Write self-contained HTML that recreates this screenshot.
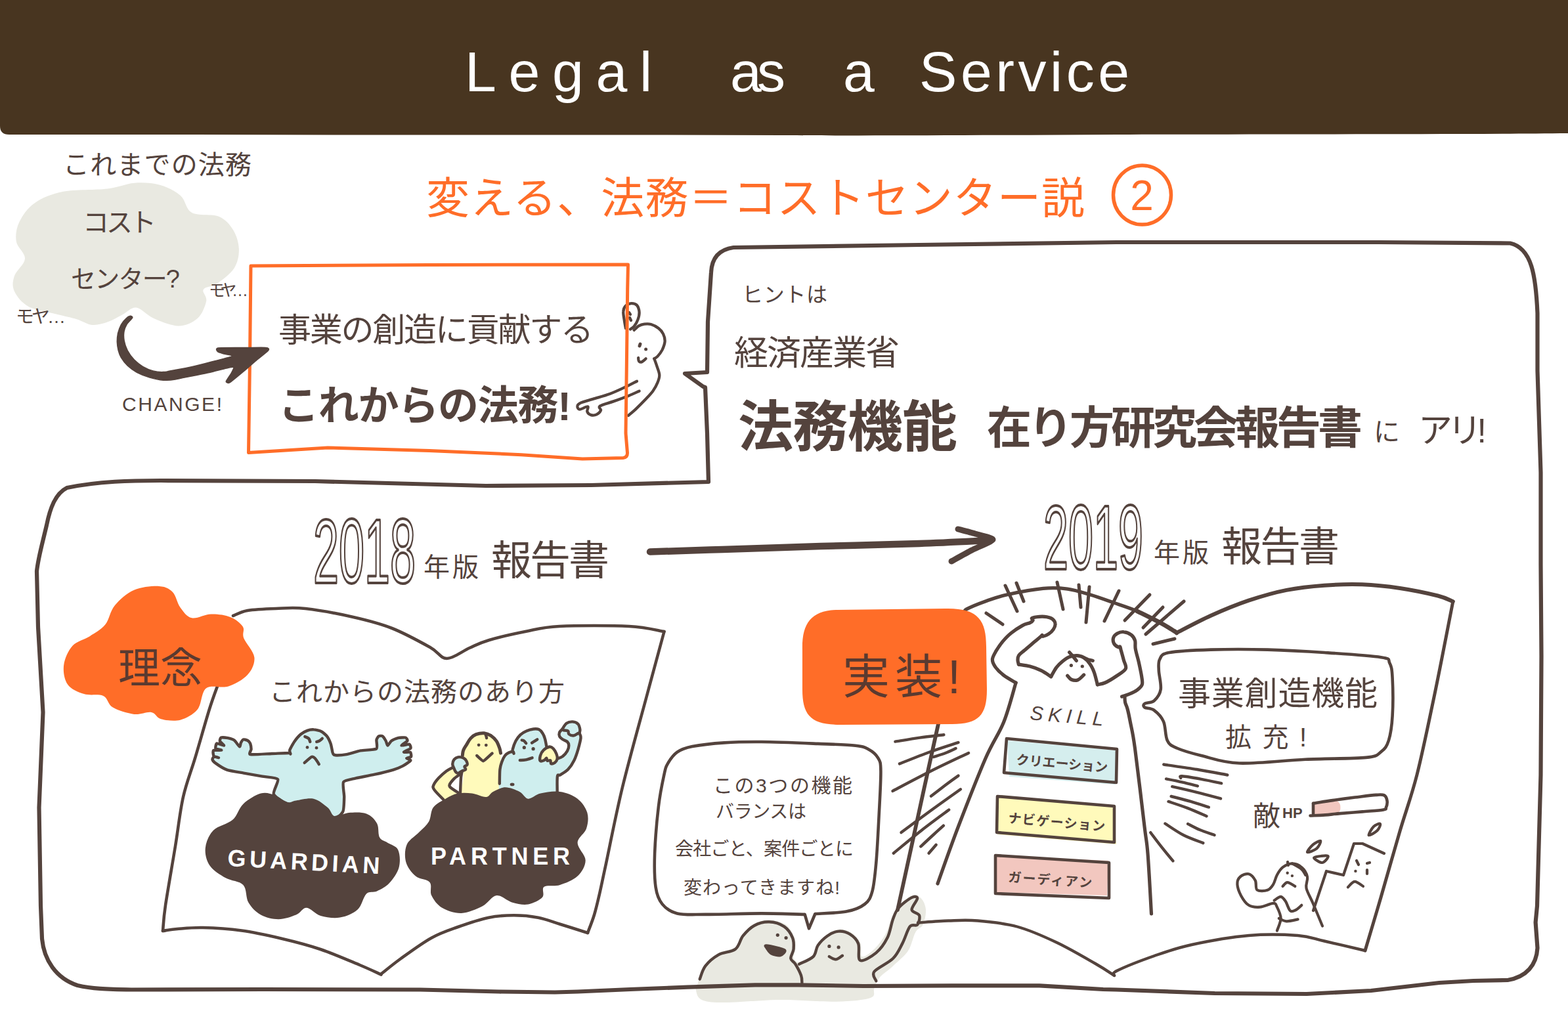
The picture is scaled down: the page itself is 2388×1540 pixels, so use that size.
<!DOCTYPE html>
<html><head><meta charset="utf-8"><title>Legal as a Service</title>
<style>html,body{margin:0;padding:0;background:#fff;font-family:"Liberation Sans",sans-serif}svg{display:block}svg text{font-family:"Liberation Sans","Noto Sans CJK JP",sans-serif}</style></head>
<body><svg width="2388" height="1540" viewBox="0 0 2388 1540" stroke-linecap="round" stroke-linejoin="round" role="img" aria-label="Legal as a Service">
<desc>Legal as a Service. 変える、法務＝コストセンター説 2. これまでの法務 コストセンター? モヤ… CHANGE! 事業の創造に貢献する これからの法務! ヒントは 経済産業省 法務機能 在り方研究会報告書 にアリ! 2018年版 報告書 理念 これからの法務のあり方 GUARDIAN PARTNER 2019年版 報告書 実装! SKILL クリエーション ナビゲーション ガーディアン 事業創造機能 拡充! 敵HP この3つの機能バランスは 会社ごと、案件ごとに 変わってきますね!</desc>
<path d="M0 0H2388V203C2200 205 1900 204 1700 205C1500 206 1300 207 1190 206C900 205 600 206 300 205L14 205Q0 205 0 192Z" fill="#483520"/>
<path d="M1062.9 1497.1C1065.2 1490.5 1069 1476.2 1074.3 1468.6C1079.5 1461 1086.7 1455.7 1094.3 1451.4C1101.9 1447.1 1113.8 1447.6 1120 1442.9C1126.2 1438.1 1126.7 1428.8 1131.4 1422.9C1136.2 1416.9 1141.9 1410.7 1148.6 1407.1C1155.2 1403.6 1163.3 1401.2 1171.4 1401.4C1179.5 1401.7 1190.7 1404 1197.1 1408.6C1203.6 1413.1 1207.6 1422.4 1210 1428.6C1212.4 1434.8 1211.7 1440.7 1211.4 1445.7C1211.2 1450.7 1207.6 1455.2 1208.6 1458.6C1209.5 1461.9 1212.1 1466.4 1217.1 1465.7C1222.1 1465 1233.8 1459 1238.6 1454.3C1243.3 1449.5 1242.1 1442.4 1245.7 1437.1C1249.3 1431.9 1254.8 1426.4 1260 1422.9C1265.2 1419.3 1271.2 1416.2 1277.1 1415.7C1283.1 1415.2 1290.2 1416.7 1295.7 1420C1301.2 1423.3 1307.1 1429.5 1310 1435.7C1312.9 1441.9 1309.3 1455.5 1312.9 1457.1C1316.4 1458.8 1325.5 1451.4 1331.4 1445.7C1337.4 1440 1344 1431 1348.6 1422.9C1353.1 1414.8 1354.8 1404.8 1358.6 1397.1C1362.4 1389.5 1366.4 1382.6 1371.4 1377.1C1376.4 1371.7 1383.3 1365.7 1388.6 1364.3C1393.8 1362.9 1399.3 1365 1402.9 1368.6C1406.4 1372.1 1409.5 1379 1410 1385.7C1410.5 1392.4 1408.3 1402.9 1405.7 1408.6C1403.1 1414.3 1398.1 1413.3 1394.3 1420C1390.5 1426.7 1388.6 1440 1382.9 1448.6C1377.1 1457.1 1367.1 1464.8 1360 1471.4C1352.9 1478.1 1344.8 1482.9 1340 1488.6C1335.2 1494.3 1333.8 1500.5 1331.4 1505.7C1329 1511 1335.2 1516.7 1325.7 1520C1316.2 1523.3 1297.1 1525.2 1274.3 1525.7C1251.4 1526.2 1217.1 1522.6 1188.6 1522.9C1160 1523.1 1122.9 1527.1 1102.9 1527.1C1082.9 1527.1 1075.7 1526 1068.6 1522.9C1061.4 1519.8 1061 1512.9 1060 1508.6C1059 1504.3 1060.5 1503.8 1062.9 1497.1Z" fill="#e9e9e1"/>
<text x="708" y="139" font-size="86" fill="#ffffff" textLength="285">Legal</text>
<text x="1112" y="139" font-size="86" fill="#ffffff" textLength="84">as</text>
<text x="1284" y="139" font-size="86" fill="#ffffff">a</text>
<text x="1400" y="139" font-size="86" fill="#ffffff" textLength="320">Service</text>
<text x="649" y="325" font-size="66" fill="#ff6d28" textLength="1003">変える、法務＝コストセンター説</text>
<ellipse cx="1739.5" cy="297" rx="44" ry="45" fill="none" stroke="#ff6d28" stroke-width="5.5"/>
<text x="1739" y="320" font-size="64" fill="#ff6d28" text-anchor="middle">2</text>
<path d="M1117 377C1096 380 1084 392 1083 415L1078 490L1077 567L1043 569L1071 589L1074 590L1077 660L1079 734L900 739L740 740L480 733L245 732C200 732 150 733 102 743C84 752 76 775 71 800C64 830 58 850 56 870L58 955L65.5 1085L59.5 1230L62 1380L64 1430C67 1462 85 1490 118 1501C140 1506 160 1507 200 1507.5L400 1507L640 1507.5L760 1510.5L845 1511.5L880 1510.5L960 1507L1047 1503.6L1150 1500.3L1215 1500.3L1315 1502L1450 1501.3L1583 1501.3L1680 1507L1700 1507.5L1850 1513L1990 1514L2088 1509L2140 1503L2192 1497L2244 1494L2296 1493C2325 1488 2340 1470 2341.5 1444L2338.6 1405L2341 1380L2346.5 1180L2347.5 1000L2346.5 860L2346.5 720L2341.5 565L2341.5 477C2339 420 2333 378 2300 370.5L2100 369L1700 369L1400 373Z" fill="none" stroke="#54433d" stroke-width="6.2"/>
<text x="96" y="265" font-size="40" fill="#54433d" textLength="287">これまでの法務</text>
<path d="M204.6 278.7C191.4 279.7 181.7 285.3 163.7 287.4C145.6 289.6 115 288.2 96.4 291.8C77.9 295.5 63.8 301.6 52.6 309.4C41.4 317.2 33.9 328.8 29.2 338.6C24.6 348.3 23.4 358.6 24.8 367.8C26.3 377.1 38.5 385.4 38 394.1C37.5 402.9 24.6 412.1 21.9 420.4C19.2 428.7 18.3 436 21.9 443.8C25.6 451.6 32.9 461.3 43.8 467.2C54.8 473 75.5 475.7 87.7 478.9C99.9 482 108.1 483.5 116.9 486.2C125.7 488.9 132.5 494.2 140.3 494.9C148.1 495.7 155.9 493.2 163.7 490.6C171.5 487.9 179.7 482.5 187 478.9C194.3 475.2 199.7 467.7 207.5 468.6C215.3 469.6 223.1 480.1 233.8 484.7C244.5 489.3 260.6 496.4 271.8 496.4C283 496.4 294 491 301 484.7C308.1 478.4 312.7 465.7 314.2 458.4C315.6 451.1 307.1 445.3 309.8 440.9C312.5 436.5 322.5 437.5 330.2 432.1C338 426.8 350.9 417.5 356.5 408.7C362.1 400 364.1 389.2 363.9 379.5C363.6 369.8 360.2 358.6 355.1 350.3C350 342 343.6 334.2 333.2 329.8C322.7 325.4 302 329.3 292.3 324C282.5 318.6 283 304.7 274.7 297.7C266.4 290.6 254.3 284.8 242.6 281.6C230.9 278.4 217.7 277.7 204.6 278.7Z" fill="#e9e9e1"/>
<text x="126" y="353" font-size="40" fill="#54433d" textLength="112">コスト</text>
<text x="108" y="438" font-size="38" fill="#54433d" textLength="166">センター?</text>
<text x="24" y="492" font-size="28" fill="#54433d" textLength="76">モヤ…</text>
<text x="318" y="451" font-size="25" fill="#54433d" textLength="60">モヤ…</text>
<path d="M952.9 500C952.5 497.9 951.3 491.4 950.7 487.1C950.1 482.9 948.9 477.9 949.3 474.3C949.6 470.7 950.8 467.7 952.9 465.7C954.9 463.7 958.6 462.3 961.4 462.1C964.3 462 968 462.7 970 465C972 467.3 973.3 472 973.6 475.7C973.8 479.4 972.7 483.6 971.4 487.1C970.1 490.7 967.6 494.8 965.7 497.1C963.8 499.5 961 500.7 960 501.4" fill="none" stroke="#54433d" stroke-width="4.3"/>
<path d="M958 476 L960 479" fill="none" stroke="#54433d" stroke-width="4.3"/>
<path d="M959 484 L961 488" fill="none" stroke="#54433d" stroke-width="4.3"/>
<path d="M965.7 502.9C966.9 501.8 970.2 498 972.9 496.4C975.5 494.9 978.3 494 981.4 493.6C984.5 493.2 987.9 492.9 991.4 494C995 495.1 999.8 497.6 1002.9 500C1006 502.4 1008.4 505.2 1010 508.6C1011.6 511.9 1012.8 516 1012.6 520C1012.3 524 1010.4 529 1008.6 532.9C1006.7 536.7 1003.5 540.6 1001.4 542.9C999.4 545.1 997.3 545.8 996.4 546.4" fill="none" stroke="#54433d" stroke-width="4.3"/>
<path d="M996.4 546.4C997.1 548.5 999.4 554.4 1000.7 558.6C1002 562.7 1004.2 567.4 1004.3 571.4C1004.4 575.5 1003.1 578.8 1001.4 582.9C999.8 586.9 997.4 591.4 994.3 595.7C991.2 600 987.1 604 982.9 608.6C978.6 613.1 972.9 618.8 968.6 622.9C964.3 626.9 959 631.2 957.1 632.9" fill="none" stroke="#54433d" stroke-width="4.3"/>
<path d="M975 524 L974 527" fill="none" stroke="#54433d" stroke-width="4.8999999999999995"/>
<circle cx="983.6" cy="532.1" r="2.5" fill="#54433d"/>
<path d="M972.1 545C972.3 545.8 972 548.9 972.9 550C973.7 551.1 975.4 552 977.1 551.4C978.9 550.8 982.5 547.3 983.6 546.4" fill="none" stroke="#54433d" stroke-width="4.3"/>
<path d="M970 580.7C967.1 582.1 959.8 586.1 952.9 589.3C946 592.5 936.9 596.9 928.6 600C920.2 603.1 910.2 605.6 902.9 607.9C895.5 610.1 888.2 611.8 884.3 613.6C880.4 615.4 879.5 616.9 879.3 618.6C879 620.2 880.2 623.5 882.9 623.6C885.5 623.7 893.1 618.7 895 619.3C896.9 619.9 893.5 625 894.3 627.1C895.1 629.3 897.6 631.4 900 632.1C902.4 632.9 906.1 632.6 908.6 631.4C911.1 630.2 914.2 627.1 915 625C915.8 622.9 910.4 620.8 913.6 618.6C916.8 616.3 927 614 934.3 611.4C941.5 608.8 950.6 605.5 957.1 602.9C963.7 600.2 970.8 596.9 973.6 595.7" fill="none" stroke="#54433d" stroke-width="4.3"/>
<path d="M382 405L653 403.5L956.5 403L955.7 440L954.3 560L953 660L955.5 690Q955.5 697 949 697.5L887 699L794 692.7L654 686.5L499 682L378.5 689.6L380.5 550Z" fill="none" stroke="#ff6d28" stroke-width="5"/>
<path d="M198.3 481.3C197.1 481.5 193.2 483.9 191.6 485.5C189.9 487 185.8 492 184.4 494.5C183 497.1 180.3 504.5 179.6 507.5C178.9 510.6 178.3 517.5 178.3 520.5C178.4 523.5 179.4 530.7 180.1 533.5C180.8 536.3 182.8 541.8 184.4 544.5C186.1 547.3 191.4 554.2 194.2 556.9C197 559.5 204.5 565.2 208.4 567.3C212.4 569.4 223.2 573.7 227.9 575.1C232.6 576.5 244.2 578.9 248.7 579.2C253.2 579.6 261.7 578.7 266.9 577.9C272 577.2 286.8 573.9 292.9 572.7C298.9 571.5 312.8 568.9 318.8 567.5C324.9 566.2 340.5 561.9 344.8 561C349.1 560.1 355.1 558.7 355.8 559.7C356.6 560.8 352.6 567.4 351.3 569.9C350 572.3 344.7 579.3 344.3 580.9C343.9 582.5 347.1 583.5 348.1 583.5C349 583.5 349.9 583 352.6 580.9C355.2 578.9 366.4 569.7 370.8 566C375.2 562.3 385.8 552.8 390.3 549.1C394.7 545.3 407 536.1 408.7 533.8C410.4 531.5 409.2 529.8 404.8 529.4C400.4 528.9 379.3 529.5 370.8 529.6C362.3 529.7 336.7 529.4 332.1 530.1C327.5 530.9 330.5 534.8 331.6 535.8C332.6 536.9 338.4 538.2 340.9 539C343.4 539.7 355.8 541.1 353.2 542.6C350.7 544.1 325.9 550.1 318.8 551.9C311.8 553.8 298.9 557.1 292.9 558.4C286.8 559.8 272 562.7 266.9 563.6C261.7 564.6 252.6 566.5 248.7 566.6C244.8 566.8 236.8 565.9 233.1 564.9C229.5 564 220.9 560.4 217.5 558.4C214.2 556.5 207.3 550.9 204.5 548.1C201.8 545.2 195.9 537.1 194.2 533.8C192.4 530.4 189.8 522.6 189.2 519.2C188.6 515.9 188.5 507.8 189 504.9C189.4 502.1 191.4 497 192.9 494.5C194.3 492.1 201.1 485.4 201.7 483.9C202.3 482.4 199.5 481.1 198.3 481.3Z" fill="#54433d" stroke="#54433d" stroke-width="1.5"/>
<text x="186" y="626" font-size="30" fill="#54433d" textLength="152">CHANGE!</text>
<text x="424" y="520" font-size="50" fill="#54433d" textLength="480">事業の創造に貢献する</text>
<text x="424" y="640" font-size="62" font-weight="bold" fill="#54433d" textLength="446">これからの法務!</text>
<text x="1130" y="460" font-size="32" fill="#54433d" textLength="130">ヒントは</text>
<text x="1118" y="556" font-size="52" fill="#54433d" textLength="252">経済産業省</text>
<text x="1124" y="680" font-size="84" font-weight="bold" fill="#54433d" textLength="334">法務機能</text>
<text x="1503" y="676" font-size="68" font-weight="bold" fill="#54433d" textLength="572">在り方研究会報告書</text>
<text x="2092" y="672" font-size="40" fill="#54433d">に</text>
<text x="2160" y="674" font-size="52" fill="#54433d" textLength="104">アリ!</text>
<text x="477" y="888" font-size="140" fill="#ffffff" stroke="#54433d" stroke-width="4" textLength="156" lengthAdjust="spacingAndGlyphs">2018</text>
<text x="645" y="878" font-size="40" fill="#54433d" textLength="84">年版</text>
<text x="748" y="876" font-size="62" fill="#54433d" textLength="180">報告書</text>
<path d="M990 840.5C1008.3 839.9 1056.7 838.4 1100 837C1143.3 835.6 1200 833.5 1250 832C1300 830.5 1357 829.5 1400 828C1443 826.5 1490 823.8 1508 823" fill="none" stroke="#54433d" stroke-width="10.5"/>
<path d="M1459 806C1461.6 806.7 1479.7 811.4 1485 813C1490.3 814.6 1512.5 819.5 1512 822C1511.5 824.5 1486.3 834.7 1480 838C1473.7 841.3 1452.1 853.3 1449 855" fill="none" stroke="#54433d" stroke-width="9"/>
<text x="1589" y="867" font-size="140" fill="#ffffff" stroke="#54433d" stroke-width="4" textLength="152" lengthAdjust="spacingAndGlyphs">2019</text>
<text x="1757" y="856" font-size="40" fill="#54433d" textLength="84">年版</text>
<text x="1860" y="855" font-size="62" fill="#54433d" textLength="180">報告書</text>
<path d="M355 938C358.7 936.7 366.2 931.8 377 930C387.8 928.2 405.3 927.5 420 927C434.7 926.5 445.3 924.8 465 927C484.7 929.2 516 935 538 940C560 945 577.5 949.3 597 957C616.5 964.7 641.1 978.3 655 986C668.9 993.7 670.5 1002.8 680.5 1003C690.5 1003.2 704.2 991.7 715 987C725.8 982.3 730.8 979.2 745 975C759.2 970.8 782.2 965.5 800 962C817.8 958.5 825.7 955.3 852 954C878.3 952.7 931.4 952.7 958 954C984.6 955.3 1002.6 960.7 1011.5 962" fill="none" stroke="#54433d" stroke-width="4.6"/>
<path d="M1011.5 962C1007.1 978.3 995.6 1020.5 985 1060C974.4 1099.5 958.5 1155.7 948 1199C937.5 1242.3 927.8 1293.2 922 1320C916.2 1346.8 916.2 1347.8 913.4 1360C910.6 1372.2 908.1 1383.3 905 1393.5C901.9 1403.7 896.7 1416.4 895 1421" fill="none" stroke="#54433d" stroke-width="4.6"/>
<path d="M895 1421C888 1418.8 865.6 1411.6 853 1407.7C840.4 1403.8 831.3 1399.9 819.6 1397.7C807.9 1395.5 795.3 1394.3 782.8 1394.3C770.2 1394.3 758.5 1394.8 744.3 1397.7C730.1 1400.7 711.9 1406.8 697.4 1412C682.9 1417.2 671.6 1420.6 657 1428.7C642.4 1436.8 622.8 1451.3 610 1460.5C597.2 1469.7 585 1480.1 580 1484" fill="none" stroke="#54433d" stroke-width="4.6"/>
<path d="M580.5 1484.5C575.1 1482.1 563.4 1476.4 548 1470C532.6 1463.6 508 1452.8 488 1446C468 1439.2 448 1434.2 428 1429.5C408 1424.8 387.8 1420.2 368 1417.5C348.2 1414.8 325.3 1413.4 309 1413C292.7 1412.6 280.2 1414.2 270 1415C259.8 1415.8 251.7 1417.5 248 1418" fill="none" stroke="#54433d" stroke-width="4.6"/>
<path d="M248 1418C248.7 1411.5 248.8 1400.5 252 1379C255.2 1357.5 262.5 1316.5 267 1289C271.5 1261.5 274 1236.3 279 1214C284 1191.7 290.3 1177.3 297 1155C303.7 1132.7 313 1099.2 319 1080C325 1060.8 330.7 1046.7 333 1040" fill="none" stroke="#54433d" stroke-width="4.6"/>
<path d="M242.3 892.9C232.5 892.5 215.4 893.9 204.2 898.8C192.9 903.7 182.2 913.5 174.8 922.3C167.5 931.1 166.5 943.8 160.2 951.6C153.8 959.4 145 963.8 136.7 969.2C128.4 974.5 116.9 976.5 110.4 983.8C103.8 991.1 98.4 1003.4 97.2 1013.1C95.9 1022.9 97.9 1035.1 103 1042.4C108.2 1049.8 118.9 1054.2 127.9 1057.1C137 1060 149.9 1056.6 157.3 1060C164.6 1063.5 164.1 1073 171.9 1077.6C179.7 1082.3 194.4 1086.7 204.2 1087.9C213.9 1089.1 223.7 1083.7 230.5 1085C237.4 1086.2 237.9 1093.3 245.2 1095.2C252.5 1097.2 265.2 1099.1 274.5 1096.7C283.8 1094.2 294.3 1088.6 300.9 1080.6C307.5 1072.5 306.3 1054.2 314.1 1048.3C321.9 1042.4 337.3 1048.8 347.8 1045.4C358.3 1042 370.5 1035.1 377.1 1027.8C383.7 1020.5 388.3 1010.7 387.4 1001.4C386.4 992.1 374.2 979.9 371.2 972.1C368.3 964.3 373.2 959.9 369.8 954.5C366.4 949.1 358.8 943 350.7 939.9C342.7 936.7 331.2 935.2 321.4 935.5C311.6 935.7 299.9 943 292.1 941.3C284.3 939.6 279.4 931.8 274.5 925.2C269.6 918.6 268.2 907.1 262.8 901.7C257.4 896.4 252 893.4 242.3 892.9Z" fill="#ff6d28"/>
<text x="180" y="1040" font-size="64" fill="#5a3a30" textLength="128">理念</text>
<text x="410" y="1068" font-size="40" fill="#54433d" textLength="450">これからの法務のあり方</text>
<path d="M416.8 1209.6C415.4 1206 424.9 1189.8 423.2 1187.1C421.4 1184.4 404.9 1183.5 399.7 1182.6C394.5 1181.6 376.6 1178.6 371.2 1177.6C365.8 1176.6 349.8 1174.1 345.6 1172.6C341.3 1171.1 330.7 1164.2 328.5 1162.6C326.3 1161.1 323.7 1157.9 323.5 1157C323.2 1156 325 1153 325.9 1152.7C326.9 1152.4 333.1 1154.2 333 1154.1C333 1154 326.4 1152.7 325.6 1151.5C324.8 1150.4 323.9 1143.9 325.1 1143C326.2 1142.1 337 1143 337.3 1142.7C337.6 1142.4 329.2 1141.3 328.5 1140.3C327.8 1139.3 328.9 1132.8 330.2 1132.3C331.4 1131.9 340.5 1135.9 341 1135.6C341.5 1135.3 335.5 1130.4 335 1129.2C334.6 1128 335.4 1124.1 336.6 1123.6C337.8 1123.1 344.9 1123.8 347 1124.2C349 1124.6 355.2 1126.5 357 1127.8C358.7 1129.1 363.8 1136.9 364.8 1137.3C365.8 1137.7 366.3 1132.4 366.9 1131.3C367.5 1130.2 369.5 1126.8 370.5 1126.5C371.5 1126.1 375.8 1127.1 376.9 1127.8C378 1128.4 380.6 1131.4 381.2 1132.7C381.7 1134.1 382.6 1139.7 382.6 1141.3C382.6 1142.9 378.3 1148.5 381.4 1149.1C384.6 1149.8 408 1148.2 413.9 1148C419.8 1147.8 437.4 1146.9 440.2 1147C443.1 1147 442.3 1148.8 442.4 1148.4C442.5 1148 440.7 1144.6 441.2 1142.7C441.8 1140.9 446.4 1132.3 448.1 1129.9C449.8 1127.5 456 1120.2 458 1118.5C460 1116.8 466 1113.5 468 1112.8C470 1112.1 475.8 1111.2 478 1111.4C480.1 1111.5 487.4 1113.2 489.4 1114.2C491.4 1115.2 496.5 1119.5 497.9 1121.4C499.3 1123.2 502.7 1130.3 503.6 1132.7C504.5 1135.2 506 1143.9 506.4 1145.6C506.9 1147.2 507.4 1148.9 508.2 1149.4C508.9 1149.9 511.6 1150.6 513.6 1150.5C515.5 1150.5 524.2 1149.8 527.8 1149.1C531.4 1148.4 544.6 1144.3 549.2 1143.4C553.7 1142.6 570.7 1142.2 573.1 1140.6C575.5 1138.9 573 1129 573.4 1127.1C573.8 1125.1 576 1121.9 576.9 1121.4C577.9 1120.8 581.6 1120.6 582.6 1121.4C583.7 1122.1 586.8 1127.1 587.6 1128.5C588.4 1129.9 589.6 1135.6 590.5 1135.6C591.3 1135.6 594.6 1129.6 596.1 1128.5C597.7 1127.3 604 1124.7 606.1 1124.2C608.3 1123.7 616.1 1123.1 617.5 1123.5C618.9 1123.9 621 1127.3 620.4 1128.5C619.8 1129.7 611.2 1135.1 611.5 1135.6C611.8 1136.1 621.8 1133.2 623.2 1133.6C624.6 1134 626.2 1138.7 625.3 1139.9C624.5 1141.1 615 1145 614.9 1145.6C614.9 1146.2 623.8 1145.1 624.9 1145.8C626 1146.6 626.6 1151.8 626 1152.7C625.5 1153.6 619.3 1154.4 619.2 1155C619.1 1155.5 625.9 1157.2 625.3 1158.4C624.7 1159.6 615.9 1165.5 613.2 1166.9C610.6 1168.3 603.3 1171.3 599 1172.6C594.7 1173.9 576.2 1178.5 570.5 1179.7C564.8 1181 546.8 1184.3 542 1185.4C537.3 1186.6 524.9 1188.3 523.1 1191.1C521.3 1194 524.3 1209.3 524.2 1213.9C524.1 1218.5 523.9 1233.6 522.1 1236.7C520.3 1239.8 515 1246.5 506.4 1245.2C497.9 1243.9 445.7 1227.4 436.7 1223.9C427.7 1220.3 418.1 1213.3 416.8 1209.6Z" fill="#cfeeee" stroke="#54433d" stroke-width="4.4"/>
<path d="M464.4 1122.1C465.4 1122.5 468.8 1123.6 470.1 1124.9C471.4 1126.2 471.9 1129.1 472.3 1129.9" fill="none" stroke="#54433d" stroke-width="4.4"/>
<path d="M490.8 1124.9C490.1 1125.5 487.9 1127.6 486.5 1128.5C485.1 1129.3 483 1129.7 482.2 1129.9" fill="none" stroke="#54433d" stroke-width="4.4"/>
<circle cx="468.0" cy="1138.4" r="2.4" fill="#54433d"/>
<circle cx="482.0" cy="1139.2" r="2.4" fill="#54433d"/>
<path d="M463.7 1161.9C464.8 1161 472.8 1153.7 474.4 1153C476 1152.3 478.3 1153.7 479.4 1154.8C480.5 1155.9 485.2 1163.1 485.8 1164.1" fill="none" stroke="#54433d" stroke-width="4.4"/>
<path d="M675.2 1217.8C670.5 1215.6 663.1 1205.5 661.1 1202.6C659.2 1199.6 659.6 1197.9 660.5 1195.5C661.5 1193.2 665.6 1187.8 668.1 1185C670.7 1182.2 676.9 1176.6 679.9 1174.4C682.8 1172.2 687.6 1167.9 690.4 1168.6C693.2 1169.2 700.8 1176.8 701 1179.1C701.1 1181.5 693.8 1184 691.6 1186.1C689.4 1188.3 685.2 1193.7 684.6 1195.5C683.9 1197.4 685.2 1198.7 686.9 1200.2C688.6 1201.8 696.2 1204.8 697.5 1207.3C698.7 1209.8 699.3 1217.6 696.3 1219C693.3 1220.4 679.9 1220 675.2 1217.8Z" fill="#fffabb"/>
<path d="M705.7 1216.6C698.2 1212.3 705.6 1193.2 705.7 1183.8C705.7 1174.4 705.6 1152.8 706.2 1146.3C706.9 1139.7 708.9 1137.4 710.4 1134.6C711.8 1131.7 714.8 1126.7 716.8 1124.6C718.8 1122.5 722.3 1119.8 725 1118.7C727.7 1117.7 734.3 1116.5 737.3 1116.7C740.4 1117 745.4 1119.1 747.9 1120.7C750.4 1122.3 754.4 1126.4 756.1 1128.9C757.8 1131.4 759.9 1137 760.8 1139.5C761.6 1142 762.4 1143.1 762.5 1147.5C762.7 1151.8 762.1 1162.9 761.9 1172.1C761.8 1181.3 768.9 1210.7 761.4 1216.6C753.9 1222.6 713.1 1221 705.7 1216.6Z" fill="#fffabb"/>
<path d="M760.8 1207.3C758.2 1202.6 760.9 1178.3 761.4 1172.1C761.8 1165.8 763.3 1163.2 764.3 1160.4C765.3 1157.5 767.6 1152.8 769 1151C770.4 1149.1 773.2 1147.3 774.8 1146.5C776.5 1145.7 780.5 1145.8 781.3 1145.1C782.1 1144.5 780.2 1143.8 780.7 1141.6C781.3 1139.4 783.8 1131.7 785.4 1128.7C787 1125.7 790.2 1121.3 792.4 1119.3C794.6 1117.3 799.2 1114.6 801.8 1113.5C804.5 1112.3 809.9 1110.8 812.4 1110.5C814.9 1110.2 818.7 1110.2 820.6 1111.1C822.4 1112 825.2 1115.1 826.4 1117C827.7 1118.8 829.2 1122.5 829.9 1125.2C830.7 1127.8 831 1135 832.3 1136.9C833.5 1138.8 837.1 1136.7 839.3 1139.2C841.5 1141.7 846.4 1153.9 848.7 1155.7C851.1 1157.4 854.9 1153.7 856.9 1152.1C858.9 1150.6 862.7 1146.1 864 1143.9C865.2 1141.7 866.3 1137.6 866.3 1135.7C866.3 1133.9 865.2 1131.1 864 1129.9C862.7 1128.6 858.5 1127.4 856.9 1126.3C855.4 1125.3 852.9 1123.1 852.2 1121.7C851.6 1120.3 851.4 1117.3 852 1115.8C852.5 1114.3 854.9 1112.4 856.3 1110.5C857.8 1108.6 860.7 1103.2 862.8 1101.7C864.9 1100.2 869.8 1099.2 872.2 1099.4C874.5 1099.5 878.9 1101.3 880.4 1102.9C881.9 1104.5 883 1109.2 883.3 1111.1C883.6 1113 882.6 1115.2 882.7 1117C882.9 1118.7 884.8 1120.7 884.5 1124C884.2 1127.3 881.7 1137.1 880.4 1141.6C879 1146.1 876.5 1153.9 874.5 1158C872.5 1162.1 867.9 1169.1 865.1 1172.1C862.3 1175 855.6 1178.9 853.4 1180.3C851.2 1181.7 849.6 1179 848.9 1182.6C848.3 1186.2 853.1 1202.4 848.7 1207.3C844.3 1212.1 824.9 1219 815.9 1219C806.8 1219 788.1 1208.8 780.7 1207.3C773.4 1205.7 763.3 1211.9 760.8 1207.3Z" fill="#cfeeee"/>
<path d="M675.2 1217.8C672.8 1215.3 663.5 1206.3 661.1 1202.6C658.7 1198.8 659.3 1198.5 660.5 1195.5C661.7 1192.6 664.9 1188.5 668.1 1185C671.4 1181.5 676.2 1177.2 679.9 1174.4C683.6 1171.7 688.7 1169.5 690.4 1168.6" fill="none" stroke="#54433d" stroke-width="4.4"/>
<path d="M701 1179.1C699.4 1180.3 694.3 1183.4 691.6 1186.1C688.9 1188.9 685.3 1193.2 684.6 1195.5C683.8 1197.9 684.8 1198.3 686.9 1200.2C689.1 1202.2 695.7 1206.1 697.5 1207.3" fill="none" stroke="#54433d" stroke-width="4.4"/>
<path d="M701 1207.3C701.2 1203.3 701.6 1189.7 702.1 1183.8C702.7 1177.9 703.9 1174 704.3 1172.1" fill="none" stroke="#54433d" stroke-width="4.4"/>
<path d="M704.3 1151C704.5 1149.6 704.6 1145.5 705.7 1142.8C706.7 1140 708.5 1137.6 710.4 1134.6C712.2 1131.5 714.4 1127.2 716.8 1124.6C719.2 1122 721.6 1120 725 1118.7C728.4 1117.4 733.5 1116.4 737.3 1116.7C741.1 1117.1 744.7 1118.7 747.9 1120.7C751 1122.8 753.9 1125.8 756.1 1128.9C758.2 1132.1 759.7 1136.5 760.8 1139.5C761.8 1142.5 762.2 1145.8 762.5 1147.1" fill="none" stroke="#54433d" stroke-width="5.0"/>
<path d="M739.7 1119.3C739.8 1119.7 740.4 1120.8 740.6 1121.7C740.8 1122.5 741 1123.8 741.1 1124.2" fill="none" stroke="#54433d" stroke-width="4.4"/>
<path d="M760.8 1193.8C760.9 1190.2 760.8 1177.6 761.4 1172.1C761.9 1166.5 763 1163.9 764.3 1160.4C765.6 1156.8 767.2 1153.3 769 1151C770.7 1148.7 772.8 1147.5 774.8 1146.5C776.9 1145.5 780 1144.9 781.3 1145.1C782.6 1145.3 782.3 1147.3 782.5 1147.7" fill="none" stroke="#54433d" stroke-width="4.4"/>
<path d="M781.3 1145.1C781.2 1144.5 780 1144.3 780.7 1141.6C781.4 1138.9 783.4 1132.4 785.4 1128.7C787.3 1125 789.7 1121.9 792.4 1119.3C795.2 1116.8 798.5 1114.9 801.8 1113.5C805.1 1112 809.2 1110.9 812.4 1110.5C815.5 1110.1 818.2 1110 820.6 1111.1C822.9 1112.2 824.9 1114.6 826.4 1117C828 1119.3 829 1121.9 829.9 1125.2C830.9 1128.5 831.9 1134.9 832.3 1136.9" fill="none" stroke="#54433d" stroke-width="4.4"/>
<path d="M848.7 1155.7C850.1 1155.1 854.4 1154.1 856.9 1152.1C859.5 1150.2 862.4 1146.7 864 1143.9C865.5 1141.2 866.3 1138.1 866.3 1135.7C866.3 1133.4 865.5 1131.4 864 1129.9C862.4 1128.3 858.9 1127.7 856.9 1126.3C855 1125 853 1123.4 852.2 1121.7C851.4 1119.9 851.3 1117.7 852 1115.8C852.7 1113.9 854.5 1112.9 856.3 1110.5C858.1 1108.2 860.1 1103.6 862.8 1101.7C865.4 1099.9 869.2 1099.2 872.2 1099.4C875.1 1099.6 878.5 1100.9 880.4 1102.9C882.2 1104.9 882.9 1108.8 883.3 1111.1C883.7 1113.5 882.5 1114.8 882.7 1117C882.9 1119.1 884.9 1119.9 884.5 1124C884.1 1128.1 882 1135.9 880.4 1141.6C878.7 1147.3 877 1152.9 874.5 1158C872 1163.1 868.6 1168.4 865.1 1172.1C861.6 1175.8 856.1 1178.5 853.4 1180.3C850.7 1182 849.7 1178.1 848.9 1182.6C848.2 1187.1 848.7 1203.1 848.7 1207.3" fill="none" stroke="#54433d" stroke-width="4.4"/>
<path d="M858.1 1112.3C859.3 1112.5 863.8 1112.5 865.1 1113.5C866.5 1114.4 864.9 1117 866.3 1118.1C867.7 1119.3 871 1120.7 873.3 1120.5C875.7 1120.3 879.2 1117.6 880.4 1117" fill="none" stroke="#54433d" stroke-width="4.4"/>
<path d="M691.6 1170.9C690.8 1169 689.2 1166.2 689.2 1163.9C689.2 1161.5 690.2 1158.6 691.6 1156.8C693 1155.1 695.1 1153.7 697.5 1153.3C699.8 1152.9 703.5 1153.5 705.7 1154.5C707.8 1155.5 709.4 1157.4 710.4 1159.2C711.3 1160.9 712 1163.6 711.5 1165C711 1166.4 707.8 1166.4 707.4 1167.6C707 1168.8 709.9 1170.9 709.2 1172.1C708.5 1173.2 705.3 1173.7 703.3 1174.7C701.4 1175.6 699 1177.8 697.5 1177.9C695.9 1178.1 694.9 1176.8 693.9 1175.6C693 1174.4 692.4 1172.9 691.6 1170.9Z" fill="#cfeeee" stroke="#54433d" stroke-width="4.4"/>
<path d="M822.9 1159.2C821.9 1158 822.1 1153.7 822.9 1151C823.7 1148.2 825.3 1145 827.6 1142.8C829.9 1140.5 834.4 1137.9 837 1137.5C839.5 1137.1 841.1 1138.6 842.8 1140.4C844.6 1142.3 846.6 1146.1 847.5 1148.6C848.5 1151.2 849.1 1153.5 848.7 1155.7C848.3 1157.8 846.8 1160.3 845.2 1161.5C843.6 1162.8 840.5 1163.8 839.3 1163.3C838.2 1162.7 839.1 1159 838.2 1158.2C837.2 1157.5 834.4 1159.4 833.5 1158.8C832.5 1158.2 833.1 1154.9 832.3 1154.7C831.5 1154.6 830.3 1157.3 828.8 1158C827.2 1158.7 823.9 1160.4 822.9 1159.2Z" fill="#fffabb" stroke="#54433d" stroke-width="4.4"/>
<circle cx="729.1" cy="1134.8" r="2.4" fill="#54433d"/>
<circle cx="740.3" cy="1135.1" r="2.4" fill="#54433d"/>
<path d="M726.2 1151C726.8 1151.5 734.6 1159.4 736.1 1159.2C737.7 1158.9 748.7 1148.2 749.6 1147.5" fill="none" stroke="#54433d" stroke-width="4.4"/>
<path d="M794.8 1127.5C795.4 1127.7 797.2 1127.9 798.3 1128.7C799.4 1129.5 800.7 1131.6 801.2 1132.2" fill="none" stroke="#54433d" stroke-width="4.4"/>
<path d="M818.2 1126.3C817.4 1126.8 814.9 1128.4 813.5 1129.3C812.2 1130.2 810.6 1131.2 810 1131.6" fill="none" stroke="#54433d" stroke-width="4.4"/>
<circle cx="798.3" cy="1138.7" r="2.6" fill="#54433d"/>
<circle cx="812.1" cy="1140.7" r="2.6" fill="#54433d"/>
<path d="M791.8 1158C793.3 1157.9 797.5 1158 800.6 1157.4C803.8 1156.8 808.9 1154.8 810.6 1154.3" fill="none" stroke="#54433d" stroke-width="4.4"/>
<ellipse cx="780.1" cy="1194.9" rx="3.4" ry="2.4" fill="#54433d"/>
<path d="M397.2 1208.6C389.2 1210.9 377.5 1218 370.4 1224.7C363.3 1231.4 361.9 1242.1 354.3 1248.8C346.7 1255.5 331.8 1257.8 324.8 1264.9C317.9 1272.1 313.7 1282.8 312.8 1291.7C311.9 1300.7 314.3 1310.9 319.5 1318.5C324.6 1326.1 335.1 1332.4 343.6 1337.3C352.1 1342.2 364.6 1341.8 370.4 1348C376.2 1354.3 374 1367.2 378.4 1374.8C382.9 1382.4 389.6 1389.3 397.2 1393.6C404.8 1397.8 415.1 1400.3 424 1400.3C432.9 1400.3 443.7 1396.5 450.8 1393.6C458 1390.7 460.6 1382.6 466.9 1382.8C473.1 1383.1 479.8 1392.5 488.3 1394.9C496.8 1397.4 508.4 1399.2 517.8 1397.6C527.2 1396 537.9 1391.6 544.6 1385.5C551.3 1379.5 553.1 1366.1 558 1361.4C562.9 1356.7 568.3 1360.1 574.1 1357.4C579.9 1354.7 587.3 1351.4 592.8 1345.3C598.4 1339.3 605.4 1329.7 607.6 1321.2C609.8 1312.7 609.2 1300.7 606.2 1294.4C603.3 1288.2 594.9 1286.8 590.2 1283.7C585.5 1280.6 580.8 1280.6 578.1 1275.6C575.4 1270.7 577.4 1260.2 574.1 1254.2C570.7 1248.2 565.2 1242.1 558 1239.5C550.9 1236.8 539.2 1237.5 531.2 1238.1C523.2 1238.8 515.1 1244.8 509.8 1243.5C504.4 1242.1 504.4 1234.6 499 1230.1C493.7 1225.6 485.6 1218.5 477.6 1216.7C469.6 1214.9 457.5 1218.5 450.8 1219.4C444.1 1220.3 442.8 1223.4 437.4 1222C432 1220.7 425.3 1213.6 418.6 1211.3C411.9 1209.1 405.2 1206.4 397.2 1208.6Z" fill="#54433d"/>
<path d="M678.6 1216.7C672.4 1220.3 664.1 1224.3 659.8 1230.1C655.6 1235.9 656.7 1245.3 653.1 1251.5C649.6 1257.8 644 1261.8 638.4 1267.6C632.8 1273.4 623 1278.8 619.6 1286.4C616.3 1294 616.1 1305.1 618.3 1313.2C620.5 1321.2 627 1329.5 633 1334.6C639.1 1339.7 650.5 1339.1 654.5 1344C658.5 1348.9 654 1357.6 657.2 1364.1C660.3 1370.6 665.7 1378.4 673.2 1382.8C680.8 1387.3 692.5 1391.3 702.7 1390.9C713 1390.4 726 1384.6 734.9 1380.2C743.8 1375.7 748.7 1365 756.3 1364.1C763.9 1363.2 772.4 1372.6 780.5 1374.8C788.5 1377 797 1378.8 804.6 1377.5C812.2 1376.1 822 1371.2 826 1366.8C830 1362.3 824.2 1353.8 828.7 1350.7C833.2 1347.6 844.3 1350.7 852.8 1348C861.3 1345.3 873.1 1340.9 879.6 1334.6C886.1 1328.4 891.7 1319 891.7 1310.5C891.7 1302 879.4 1291.7 879.6 1283.7C879.8 1275.6 890.6 1269.8 893 1262.2C895.5 1254.7 896.6 1245.7 894.4 1238.1C892.1 1230.5 886.5 1222 879.6 1216.7C872.7 1211.3 862.2 1207.3 852.8 1206C843.4 1204.6 831.4 1206.9 823.3 1208.6C815.3 1210.4 809.9 1217.1 804.6 1216.7C799.2 1216.2 797 1208.9 791.2 1206C785.4 1203.1 776.4 1199.3 769.7 1199.3C763 1199.3 755.9 1203.5 751 1206C746.1 1208.4 745.6 1213.6 740.3 1214C734.9 1214.5 726 1209.5 718.8 1208.6C711.7 1207.7 704.1 1207.3 697.4 1208.6C690.7 1210 684.9 1213.1 678.6 1216.7Z" fill="#54433d"/>
<text x="346" y="1319" font-size="36" font-weight="bold" fill="#ffffff" textLength="232" transform="rotate(3 346 1319)">GUARDIAN</text>
<text x="656" y="1317" font-size="36" font-weight="bold" fill="#ffffff" textLength="212">PARTNER</text>
<path d="M1469.3 933.6C1469.8 932.6 1466.8 930.8 1472.1 927.9C1477.5 924.9 1491.1 919.4 1501.4 915.7C1511.8 912 1519.8 908.9 1534.3 905.7C1548.8 902.5 1573.3 897.9 1588.6 896.4C1603.8 895 1613.8 895.6 1625.7 897.1C1637.6 898.7 1648.3 902.3 1660 905.7C1671.7 909.2 1683.8 913.7 1695.7 917.9C1707.6 922 1719.5 925.6 1731.4 930.7C1743.3 935.8 1757.6 943.5 1767.1 948.6C1776.7 953.7 1784.4 958.9 1788.6 961.4C1792.7 964 1791.4 963.6 1792 964" fill="none" stroke="#54433d" stroke-width="5.2"/>
<path d="M1731.4 930.7C1737.4 933.7 1757.6 943.5 1767.1 948.6C1776.7 953.7 1784.4 958.9 1788.6 961.4C1792.7 964 1791.4 963.6 1792 964" fill="none" stroke="#54433d" stroke-width="6.6"/>
<path d="M1470 932C1465 953.3 1446.9 1031.2 1440 1060C1433.1 1088.8 1435.2 1075.8 1428.5 1105C1421.8 1134.2 1410.2 1188.2 1400 1235C1389.8 1281.8 1372.5 1360.8 1367 1386" fill="none" stroke="#54433d" stroke-width="5.8"/>
<path d="M1792 964C1800.7 959.6 1825.8 946 1844.1 937.8C1862.3 929.6 1882.5 921.2 1901.7 914.7C1920.9 908.3 1940.1 902.7 1959.3 898.9C1978.5 895.1 1997.7 893.1 2016.9 891.7C2036.1 890.3 2055.3 889.5 2074.5 890.3C2093.7 891 2112.9 893.1 2132.2 896C2151.4 898.9 2176.3 904.2 2189.8 907.5C2203.2 910.9 2209 914.7 2212.8 916.2" fill="none" stroke="#54433d" stroke-width="6.0"/>
<path d="M2212.8 916.2C2210.9 926 2206.1 951 2201.3 975.2C2196.5 999.5 2191.2 1027.5 2184 1061.7C2176.8 1095.8 2166.7 1145.9 2158 1180C2149.3 1214.1 2141.2 1234.8 2132 1266C2122.8 1297.2 2111.8 1336.7 2103 1367C2094.2 1397.3 2083 1434.5 2079 1448" fill="none" stroke="#54433d" stroke-width="5.0"/>
<path d="M2079 1448C2068.7 1445.6 2034.1 1437.3 2017 1433.5C1999.9 1429.7 1995.8 1426.4 1976.6 1425C1957.4 1423.6 1928.9 1422.7 1902 1425C1875.1 1427.3 1839 1433.8 1815 1439C1791 1444.2 1776.9 1449.4 1758 1456C1739.1 1462.6 1711.7 1473.5 1701.5 1478.5C1691.3 1483.5 1697.8 1484.8 1697 1486" fill="none" stroke="#54433d" stroke-width="4.4"/>
<path d="M1697 1486C1692.2 1483 1683.2 1476.4 1668.5 1468C1653.8 1459.6 1628.9 1444.9 1609 1435.5C1589.1 1426.1 1569 1417 1549 1411.5C1529 1406 1506.4 1404 1489 1402.5C1471.6 1401 1459.7 1402 1444.5 1402.5C1429.3 1403 1405.8 1405 1398 1405.5" fill="none" stroke="#54433d" stroke-width="4.4"/>
<path d="M1531 892 L1549 931" fill="none" stroke="#54433d" stroke-width="5.0"/>
<path d="M1548 888 L1559 916" fill="none" stroke="#54433d" stroke-width="5.0"/>
<path d="M1502 934 L1527 951" fill="none" stroke="#54433d" stroke-width="5.0"/>
<path d="M1610 887 L1619 928" fill="none" stroke="#54433d" stroke-width="5.0"/>
<path d="M1643 891 L1646 925" fill="none" stroke="#54433d" stroke-width="5.0"/>
<path d="M1659 894 L1654 948" fill="none" stroke="#54433d" stroke-width="5.0"/>
<path d="M1704 900 L1682 946" fill="none" stroke="#54433d" stroke-width="5.0"/>
<path d="M1751 906 L1713 945" fill="none" stroke="#54433d" stroke-width="5.0"/>
<path d="M1771 925 L1741 956" fill="none" stroke="#54433d" stroke-width="5.0"/>
<path d="M1803 916 L1745 966" fill="none" stroke="#54433d" stroke-width="5.0"/>
<path d="M1756 981 L1789 973" fill="none" stroke="#54433d" stroke-width="5.0"/>
<path d="M1428 1346C1433.2 1331.5 1447.3 1290.8 1459.5 1259C1471.7 1227.2 1489.5 1181.5 1501 1155C1512.5 1128.5 1520.9 1119.2 1528.6 1100C1536.3 1080.8 1544 1050 1547.1 1040" fill="none" stroke="#54433d" stroke-width="5.2"/>
<path d="M1547.1 1040C1544 1038.1 1533.8 1032.6 1528.6 1028.6C1523.3 1024.5 1518.6 1019.8 1515.7 1015.7C1512.9 1011.7 1511.2 1008.3 1511.4 1004.3C1511.7 1000.2 1514.5 996 1517.1 991.4C1519.8 986.9 1523.3 981.7 1527.1 977.1C1531 972.6 1535 968.3 1540 964.3C1545 960.2 1552.4 955.5 1557.1 952.9C1561.9 950.2 1565.9 949.9 1568.6 948.6C1571.2 947.3 1572.6 946.2 1573.1 945C1573.7 943.8 1570.1 942.4 1571.7 941.4C1573.3 940.5 1579.1 939.6 1582.9 939.3C1586.6 939 1591 939.1 1594.3 939.7C1597.6 940.3 1600.7 941.1 1602.9 942.9C1605 944.6 1606.9 947.4 1607.1 950C1607.4 952.6 1606 956 1604.3 958.6C1602.6 961.2 1599.8 963.9 1597.1 965.7C1594.5 967.5 1590.2 969 1588.6 969.3C1586.9 969.6 1587.4 967.7 1587.1 967.4" fill="none" stroke="#54433d" stroke-width="5.2"/>
<path d="M1587.1 967.9C1585 969.6 1578.8 974.8 1574.3 978.6C1569.8 982.4 1563.8 987.4 1560 990.7C1556.2 994 1553.1 996.1 1551.4 998.6C1549.8 1001.1 1550 1003.5 1550 1005.7C1550 1008 1551.2 1011.1 1551.4 1012.1" fill="none" stroke="#54433d" stroke-width="5.2"/>
<path d="M1551.4 1012.1C1554.3 1012.6 1562.9 1013.5 1568.6 1015C1574.3 1016.5 1580.4 1018.8 1585.7 1021.4C1591.1 1024 1598.2 1029.2 1600.7 1030.7" fill="none" stroke="#54433d" stroke-width="5.2"/>
<path d="M1600.7 1030.7C1602 1028.5 1605.6 1021.1 1608.6 1017.1C1611.5 1013.2 1615.2 1009.9 1618.6 1007.1C1621.9 1004.4 1625 1002.1 1628.6 1000.7C1632.1 999.3 1636.4 998.5 1640 998.6C1643.6 998.7 1646.7 999.3 1650 1001.4C1653.3 1003.6 1657.3 1007.6 1660 1011.4C1662.7 1015.2 1664.5 1019 1666.4 1024.3C1668.3 1029.5 1670.6 1039.8 1671.4 1042.9" fill="none" stroke="#54433d" stroke-width="5.2"/>
<path d="M1671.4 1042.9C1673.3 1042.4 1678.1 1042.1 1682.9 1040C1687.6 1037.9 1694.8 1033.6 1700 1030C1705.2 1026.4 1712.4 1022.6 1714.3 1018.6C1716.2 1014.5 1712.6 1010.5 1711.4 1005.7C1710.2 1001 1708.1 993.5 1707.1 990C1706.2 986.5 1706.4 985.7 1705.7 985C1705 984.3 1704.4 986.5 1702.9 985.7C1701.3 984.9 1697.6 982.4 1696.4 980C1695.2 977.6 1694.9 973.9 1695.7 971.4C1696.5 968.9 1698.8 966.5 1701.4 965C1704 963.5 1707.9 962.2 1711.4 962.6C1715 962.9 1720 965 1722.9 967.1C1725.7 969.3 1727.5 972.1 1728.6 975.7C1729.6 979.3 1728.3 983.1 1729.3 988.6C1730.2 994 1732.7 1001.7 1734.3 1008.6C1735.8 1015.5 1737.7 1024.3 1738.6 1030C1739.4 1035.7 1740.5 1039.3 1739.3 1042.9C1738.1 1046.4 1734.6 1049 1731.4 1051.4C1728.2 1053.8 1723.8 1055.5 1720 1057.1C1716.2 1058.8 1710.5 1060.5 1708.6 1061.1" fill="none" stroke="#54433d" stroke-width="5.2"/>
<path d="M1712.9 1060.7C1713 1062.3 1712.9 1066.8 1713.6 1070C1714.3 1073.2 1715.8 1075 1717.1 1080C1718.5 1085 1719.5 1090 1721.4 1100C1723.3 1110 1724.9 1113.5 1728.5 1140C1732.1 1166.5 1739.8 1232.3 1743 1259C1746.2 1285.7 1746.2 1277.8 1748 1300C1749.8 1322.2 1752.6 1376.7 1753.5 1392" fill="none" stroke="#54433d" stroke-width="5.2"/>
<path d="M1628.6 993.6C1629.5 994.6 1632.5 997.9 1634.3 1000C1636.1 1002.1 1638.5 1005.4 1639.3 1006.4" fill="none" stroke="#54433d" stroke-width="5.2"/>
<path d="M1650 1001.4C1651.2 1002 1654.8 1003.7 1657.1 1004.6C1659.5 1005.4 1663.1 1006.1 1664.3 1006.4" fill="none" stroke="#54433d" stroke-width="5.2"/>
<circle cx="1631.4" cy="1013.6" r="2.6" fill="#54433d"/>
<circle cx="1648.3" cy="1015.0" r="2.6" fill="#54433d"/>
<path d="M1625.7 1029.3C1626.7 1030.2 1628.8 1033.9 1631.4 1035C1634 1036.1 1638.2 1036.9 1641.4 1035.7C1644.6 1034.5 1649.2 1029.2 1650.7 1027.9" fill="none" stroke="#54433d" stroke-width="5.2"/>
<text x="1568" y="1096" font-size="30" font-style="italic" fill="#54433d" textLength="112" transform="rotate(5 1568 1096)">SKILL</text>
<path d="M1534 1128 L1700 1143 L1698 1195 L1537 1183Z" fill="#d5eeee"/>
<path d="M1533 1125 L1701 1141 L1700 1192 L1529 1177Z" fill="none" stroke="#54433d" stroke-width="4.6"/>
<path d="M1521 1211 L1695 1229 L1700 1286 L1519 1271Z" fill="#fffabb"/>
<path d="M1519 1213 L1697 1228 L1697 1283 L1518 1268Z" fill="none" stroke="#54433d" stroke-width="4.6"/>
<path d="M1515 1303 L1688 1311 L1686 1364 L1516 1359Z" fill="#f2c7bf"/>
<path d="M1516 1303 L1689 1314 L1689 1368 L1516 1361Z" fill="none" stroke="#54433d" stroke-width="4.6"/>
<text x="1547" y="1164" font-size="20" font-weight="bold" fill="#54433d" textLength="140" transform="rotate(5 1547 1164)">クリエーション</text>
<text x="1535" y="1253" font-size="20" font-weight="bold" fill="#54433d" textLength="148" transform="rotate(5 1535 1253)">ナビゲーション</text>
<text x="1535" y="1343" font-size="20" font-weight="bold" fill="#54433d" textLength="128" transform="rotate(4 1535 1343)">ガーディアン</text>
<path d="M1363.4 1129.6C1369.7 1128.6 1388.7 1125.4 1401 1123.6C1413.4 1121.9 1431.3 1120 1437.4 1119.2" fill="none" stroke="#54433d" stroke-width="4.4"/>
<path d="M1369.9 1163.4C1377.7 1160.3 1401.7 1150.6 1416.6 1145.2C1431.6 1139.8 1452.3 1133.3 1459.5 1130.9" fill="none" stroke="#54433d" stroke-width="4.4"/>
<path d="M1421.8 1153C1424.8 1152 1434.4 1149.2 1440 1147C1445.6 1144.8 1453 1141.2 1455.6 1140" fill="none" stroke="#54433d" stroke-width="4.4"/>
<path d="M1359.5 1204.9C1369.4 1199.7 1400 1183.4 1419.2 1173.8C1438.5 1164.1 1465.8 1151.5 1475.1 1147" fill="none" stroke="#54433d" stroke-width="4.4"/>
<path d="M1417.9 1212.7C1421.6 1209.9 1433.1 1201 1440 1195.8C1446.9 1190.6 1456.2 1183.9 1459.5 1181.6" fill="none" stroke="#54433d" stroke-width="4.4"/>
<path d="M1372.5 1268.1C1380.3 1262.3 1404.2 1244.5 1419.2 1233.5C1434.3 1222.6 1455.6 1207.5 1462.9 1202.3" fill="none" stroke="#54433d" stroke-width="4.4"/>
<path d="M1360.8 1299.7C1367.9 1293.9 1389.6 1275.7 1403.6 1264.7C1417.7 1253.6 1438.3 1238.7 1445.2 1233.5" fill="none" stroke="#54433d" stroke-width="4.4"/>
<path d="M1402.3 1289.4C1405.4 1286.5 1414.8 1277.7 1420.5 1272.5C1426.3 1267.2 1434.2 1260.1 1436.9 1257.7" fill="none" stroke="#54433d" stroke-width="4.4"/>
<path d="M1414.5 1299.7C1416.4 1297.6 1423.9 1288.9 1425.7 1286.8" fill="none" stroke="#54433d" stroke-width="4.4"/>
<path d="M1222 990C1221 950 1235 930 1275 929L1440 927C1490 926 1502 945 1502 985L1503 1050C1503 1090 1490 1103 1450 1103L1280 1104C1235 1104 1222 1090 1222 1050Z" fill="#ff6d28"/>
<text x="1283" y="1056" font-size="72" fill="#5a3a30" textLength="180">実装!</text>
<path d="M1241.4 1392C1249.3 1391.4 1276 1391 1288.6 1388.6C1301.2 1386.1 1310.5 1382.4 1317.1 1377.1C1323.8 1371.9 1325.7 1367.6 1328.6 1357.1C1331.4 1346.7 1332.6 1333.3 1334.3 1314.3C1336 1295.2 1337.4 1266.2 1338.6 1242.9C1339.8 1219.5 1341.7 1189 1341.4 1174.3C1341.2 1159.5 1340.2 1159.8 1337.1 1154.3C1334 1148.8 1328.6 1144.5 1322.9 1141.4C1317.1 1138.3 1315.7 1137.1 1302.9 1135.7C1290 1134.3 1269.5 1133.8 1245.7 1132.9C1221.9 1131.9 1183.8 1130.2 1160 1130C1136.2 1129.8 1120.5 1130.2 1102.9 1131.4C1085.2 1132.6 1066.2 1134.8 1054.3 1137.1C1042.4 1139.5 1037.6 1141.4 1031.4 1145.7C1025.2 1150 1020.5 1157.1 1017.1 1162.9C1013.8 1168.6 1013.8 1169 1011.4 1180C1009 1191 1005.2 1208.6 1002.9 1228.6C1000.5 1248.6 997.9 1279.5 997.1 1300C996.4 1320.5 996.7 1338.6 998.6 1351.4C1000.5 1364.3 1003.1 1370.5 1008.6 1377.1C1014 1383.8 1020.5 1388.8 1031.4 1391.4C1042.4 1394 1052.9 1392.9 1074.3 1392.9C1095.7 1392.9 1134.8 1391.4 1160 1391.4C1185.2 1391.4 1214.8 1392.6 1225.7 1392.9L1232.0 1414.3Z" fill="#fff" stroke="#54433d" stroke-width="4.6"/>
<text x="1086" y="1207" font-size="30" fill="#54433d" textLength="212">この3つの機能</text>
<text x="1090" y="1246" font-size="28" fill="#54433d" textLength="138">バランスは</text>
<text x="1028" y="1303" font-size="28" fill="#54433d" textLength="272">会社ごと、案件ごとに</text>
<text x="1041" y="1362" font-size="28" fill="#54433d" textLength="238">変わってきますね!</text>
<path d="M1065.7 1491.4C1067.1 1488.1 1069.5 1477.6 1074.3 1471.4C1079 1465.2 1086.7 1458.6 1094.3 1454.3C1101.9 1450 1113.8 1450.5 1120 1445.7C1126.2 1441 1126.7 1431.7 1131.4 1425.7C1136.2 1419.8 1141.9 1413.6 1148.6 1410C1155.2 1406.4 1163.8 1404 1171.4 1404.3C1179 1404.5 1188.3 1407.4 1194.3 1411.4C1200.2 1415.5 1204.8 1422.9 1207.1 1428.6C1209.5 1434.3 1209 1440.5 1208.6 1445.7C1208.1 1451 1203.8 1456.2 1204.3 1460C1204.8 1463.8 1208.8 1464.3 1211.4 1468.6C1214 1472.9 1218.3 1481 1220 1485.7C1221.7 1490.5 1221.2 1495.2 1221.4 1497.1" fill="none" stroke="#54433d" stroke-width="4.4"/>
<circle cx="1184.3" cy="1424.3" r="2.6" fill="#54433d"/>
<circle cx="1197.1" cy="1428.6" r="2.6" fill="#54433d"/>
<path d="M1165.7 1440C1167.4 1439.5 1172.1 1440.2 1177.1 1441.4C1182.1 1442.6 1193.8 1444.8 1195.7 1447.1C1197.6 1449.5 1192.1 1454.8 1188.6 1455.7C1185 1456.7 1177.9 1454.8 1174.3 1452.9C1170.7 1451 1168.6 1446.4 1167.1 1444.3C1165.7 1442.1 1164 1440.5 1165.7 1440Z" fill="#54433d" stroke="#54433d" stroke-width="3"/>
<path d="M1217.1 1468.6C1220.7 1466.7 1233.8 1461.9 1238.6 1457.1C1243.3 1452.4 1242.1 1445.2 1245.7 1440C1249.3 1434.8 1254.8 1429.3 1260 1425.7C1265.2 1422.1 1271.4 1419 1277.1 1418.6C1282.9 1418.1 1289.3 1419.8 1294.3 1422.9C1299.3 1426 1304.5 1430.5 1307.1 1437.1C1309.8 1443.8 1305.5 1460.5 1310 1462.9C1314.5 1465.2 1327.4 1457.1 1334.3 1451.4C1341.2 1445.7 1347.1 1437.1 1351.4 1428.6C1355.7 1420 1357.1 1407.6 1360 1400C1362.9 1392.4 1363.8 1388.3 1368.6 1382.9C1373.3 1377.4 1383.8 1369.5 1388.6 1367.1C1393.3 1364.8 1397.1 1365.5 1397.1 1368.6C1397.1 1371.7 1388.1 1381.4 1388.6 1385.7C1389 1390 1398.6 1390.5 1400 1394.3C1401.4 1398.1 1399.5 1405.7 1397.1 1408.6C1394.8 1411.4 1389.5 1406.7 1385.7 1411.4C1381.9 1416.2 1378.6 1429 1374.3 1437.1C1370 1445.2 1367.1 1452.9 1360 1460C1352.9 1467.1 1335.7 1474.3 1331.4 1480C1327.1 1485.7 1333.8 1491.9 1334.3 1494.3" fill="none" stroke="#54433d" stroke-width="4.4"/>
<circle cx="1262.9" cy="1441.4" r="2.6" fill="#54433d"/>
<circle cx="1277.1" cy="1442.9" r="2.6" fill="#54433d"/>
<path d="M1262.9 1457.1C1264.5 1457.9 1269.5 1461.7 1272.9 1461.4C1276.2 1461.2 1281.2 1456.7 1282.9 1455.7" fill="none" stroke="#54433d" stroke-width="4.4"/>
<path d="M1766.3 1004.1C1768.9 999.5 1767.7 996.4 1780.7 994C1793.6 991.6 1819.1 990.4 1844.1 989.6C1869 988.9 1901.7 988.9 1930.5 989.6C1959.3 990.4 1988.1 992 2016.9 994C2045.7 995.9 2086.8 998.5 2103.3 1001.2C2119.9 1003.8 2113.4 1004.5 2116.3 1009.8C2119.2 1015.1 2119.9 1019.4 2120.6 1032.9C2121.3 1046.3 2121.6 1074.6 2120.6 1090.5C2119.7 1106.3 2117.7 1118.8 2114.9 1127.9C2112 1137.1 2109.1 1140.9 2103.3 1145.2C2097.6 1149.5 2099.5 1151.9 2080.3 1153.9C2061.1 1155.8 2020.3 1155.3 1988.1 1156.7C1955.9 1158.2 1913.7 1163.5 1887.3 1162.5C1860.9 1161.5 1845.5 1154.8 1829.6 1151C1813.8 1147.1 1800.8 1143.3 1792.2 1139.5C1783.5 1135.6 1781.1 1134.7 1777.8 1127.9C1774.4 1121.2 1775.4 1106.8 1772 1099.1C1768.7 1091.4 1762.4 1085.4 1757.6 1081.8C1752.8 1078.2 1745.6 1079.2 1743.2 1077.5C1740.8 1075.8 1740.8 1073.4 1743.2 1071.8C1745.6 1070.1 1753.5 1071 1757.6 1067.4C1761.7 1063.8 1766.5 1057.8 1767.7 1050.1C1768.9 1042.5 1765.1 1029 1764.8 1021.3C1764.6 1013.7 1763.6 1008.6 1766.3 1004.1Z" fill="none" stroke="#54433d" stroke-width="4.6"/>
<text x="1794" y="1074" font-size="50" fill="#54433d" textLength="304">事業創造機能</text>
<text x="1866" y="1137" font-size="40" fill="#54433d" textLength="124">拡充!</text>
<path d="M1772.3 1164.5C1780.7 1165.8 1806.6 1169.4 1822.7 1172C1838.9 1174.7 1861.6 1179.1 1869.3 1180.5" fill="none" stroke="#54433d" stroke-width="4.4"/>
<path d="M1798.2 1185C1798.5 1184.5 1794.8 1182 1800 1182.3C1805.2 1182.6 1819.5 1185 1829.5 1186.8C1839.6 1188.6 1855.1 1192.1 1860.2 1193.2" fill="none" stroke="#54433d" stroke-width="4.4"/>
<path d="M1776.1 1186.4C1780.1 1187.2 1792 1189.5 1800 1191.4C1808 1193.2 1819.9 1196.3 1823.9 1197.3" fill="none" stroke="#54433d" stroke-width="4.4"/>
<path d="M1785.2 1198.2C1791.5 1199.6 1810.4 1203.8 1822.7 1206.8C1835 1209.8 1853 1214.8 1859.1 1216.4" fill="none" stroke="#54433d" stroke-width="4.4"/>
<path d="M1783.6 1213C1788.6 1214.3 1804.1 1218.1 1813.6 1220.9C1823.2 1223.7 1836.4 1228.1 1840.9 1229.5" fill="none" stroke="#54433d" stroke-width="4.4"/>
<path d="M1779.5 1220.9C1784.5 1222.6 1799.4 1227.4 1809.1 1231.1C1818.8 1234.8 1832.8 1241.2 1837.5 1243.2" fill="none" stroke="#54433d" stroke-width="4.4"/>
<path d="M1809.1 1255C1812.1 1256.5 1820.5 1261.2 1827.3 1264.1C1834 1266.9 1845.8 1270.7 1849.5 1272" fill="none" stroke="#54433d" stroke-width="4.4"/>
<path d="M1774.5 1254.5C1779.2 1257.5 1792.7 1267.1 1802.3 1272C1811.9 1277 1827.3 1282.1 1832.3 1284.1" fill="none" stroke="#54433d" stroke-width="4.4"/>
<path d="M1752.3 1268.2C1754.9 1271.7 1762.5 1281.9 1768.2 1289.1C1773.9 1296.3 1783.3 1307.7 1786.4 1311.4" fill="none" stroke="#54433d" stroke-width="4.4"/>
<text x="1908" y="1258" font-size="42" fill="#54433d">敵<tspan x="1953" y="1246" font-size="22" font-weight="bold">HP</tspan></text>
<path d="M2001.1 1224.3C2004.4 1222.2 2030.1 1219.7 2034.1 1219.8C2038.1 1219.9 2040.2 1224 2040.9 1225.5C2041.6 1226.9 2041.6 1233.1 2040.9 1234.5C2040.2 1236 2038.1 1238.9 2034.1 1239.5C2030.1 1240.2 2004.4 1242.4 2001.1 1240.9C1997.8 1239.4 1997.8 1226.4 2001.1 1224.3Z" fill="#f2c7bf"/>
<path d="M2000 1223.6C2004.9 1222.9 2018.9 1220.6 2029.5 1219.1C2040.2 1217.6 2052.7 1215.9 2063.6 1214.5C2074.6 1213.2 2088.1 1211.4 2095.5 1210.9C2102.8 1210.4 2105.1 1209.9 2108 1211.4C2110.8 1212.8 2112 1216.7 2112.5 1219.8C2113 1222.9 2111.9 1227.7 2110.9 1230C2110 1232.3 2112.8 1232.3 2106.8 1233.4C2100.8 1234.5 2086 1235.4 2075 1236.4C2064 1237.3 2050.4 1238.3 2040.9 1239.1C2031.4 1239.9 2025.8 1240.8 2018.2 1241.4C2010.6 1241.9 1999.2 1242.3 1995.5 1242.5" fill="none" stroke="#54433d" stroke-width="4.6"/>
<path d="M2000 1224 L2000 1241" fill="none" stroke="#54433d" stroke-width="4.6"/>
<path d="M1944.9 1417.7C1945.8 1414.6 1950.6 1405 1950.6 1399C1950.6 1393 1946.8 1385.5 1944.9 1381.7C1943 1377.8 1943.4 1375.9 1939.1 1375.9C1934.8 1375.9 1925.2 1381.2 1919 1381.7C1912.7 1382.2 1906.5 1381.7 1901.7 1378.8C1896.9 1375.9 1893 1369.7 1890.1 1364.4C1887.3 1359.1 1884.6 1351.9 1884.4 1347.1C1884.1 1342.3 1885.8 1338.2 1888.7 1335.6C1891.6 1332.9 1897.8 1330.3 1901.7 1331.3C1905.5 1332.2 1909.6 1337.3 1911.8 1341.3C1913.9 1345.4 1911.5 1353.3 1914.6 1355.7C1917.8 1358.1 1926.4 1357.2 1930.5 1355.7C1934.6 1354.3 1936.7 1350.9 1939.1 1347.1C1941.5 1343.3 1942.5 1337 1944.9 1332.7C1947.3 1328.4 1949.7 1324.1 1953.5 1321.2C1957.4 1318.3 1963.1 1315.4 1967.9 1315.4C1972.7 1315.4 1978.5 1317.8 1982.3 1321.2C1986.2 1324.5 1989.8 1330.3 1991 1335.6C1992.2 1340.9 1988.1 1346.1 1989.5 1352.9C1991 1359.6 1995.5 1366.3 1999.6 1375.9C2003.7 1385.5 2011.6 1404.7 2014 1410.5" fill="none" stroke="#54433d" stroke-width="4.2"/>
<path d="M1961 1313 L1962 1318" fill="none" stroke="#54433d" stroke-width="4.2"/>
<path d="M1967.9 1315.4C1970.3 1316.8 1979 1321.2 1982.3 1324.1C1985.7 1326.9 1987.1 1331.3 1988.1 1332.7" fill="none" stroke="#54433d" stroke-width="4.2"/>
<circle cx="1960.7" cy="1329.8" r="2.2" fill="#54433d"/>
<circle cx="1967.9" cy="1334.1" r="2.2" fill="#54433d"/>
<path d="M1953.5 1350C1954.7 1349 1957.6 1344.2 1960.7 1344.2C1963.9 1344.2 1970.3 1349 1972.3 1350" fill="none" stroke="#54433d" stroke-width="4.2"/>
<path d="M1940.6 1371.6C1942.2 1370.6 1947.8 1365.6 1950.6 1365.8C1953.5 1366.1 1955.4 1369.4 1957.9 1373C1960.3 1376.6 1962.4 1385.3 1965.1 1387.4C1967.7 1389.6 1970.8 1387.4 1973.7 1386C1976.6 1384.6 1980.9 1380 1982.3 1378.8" fill="none" stroke="#54433d" stroke-width="4.2"/>
<path d="M1947.8 1399C1949.7 1399.7 1954.5 1403 1959.3 1403.3C1964.1 1403.5 1973.7 1400.9 1976.6 1400.4" fill="none" stroke="#54433d" stroke-width="4.2"/>
<path d="M2000 1387 L2020 1327 L2046 1333 L2062 1285 L2075 1285 L2108 1300" fill="none" stroke="#54433d" stroke-width="4.2"/>
<path d="M2066 1311 L2069 1317" fill="none" stroke="#54433d" stroke-width="4.2"/>
<path d="M2082 1315 L2086 1314" fill="none" stroke="#54433d" stroke-width="4.2"/>
<circle cx="2064.4" cy="1326.9" r="2.2" fill="#54433d"/>
<path d="M2082 1325 L2082 1331" fill="none" stroke="#54433d" stroke-width="4.2"/>
<path d="M2052.9 1351.4C2054.6 1350 2059.2 1343 2063 1342.8C2066.8 1342.5 2073.8 1348.8 2076 1350" fill="none" stroke="#54433d" stroke-width="4.2"/>
<path d="M1991 1298.1C1990 1297.2 1996.3 1289.5 1999.6 1286.6C2003 1283.7 2010.2 1279.9 2011.1 1280.8C2012.1 1281.8 2008.7 1289.5 2005.4 1292.4C2002 1295.2 1991.9 1299.1 1991 1298.1Z" fill="none" stroke="#54433d" stroke-width="4.2"/>
<path d="M2001.1 1306.8C2000.8 1305.1 2009 1304.3 2012.6 1303.9C2016.2 1303.5 2022.4 1302.8 2022.7 1304.5C2022.9 1306.1 2017.6 1313.6 2014 1314C2010.4 1314.4 2001.3 1308.4 2001.1 1306.8Z" fill="none" stroke="#54433d" stroke-width="4.2"/>
<path d="M2084.6 1272.2C2083.7 1271.2 2088.9 1262.1 2091.8 1259.2C2094.7 1256.3 2100.9 1253.9 2101.9 1254.9C2102.9 1255.9 2100.5 1262.1 2097.6 1265C2094.7 1267.9 2085.6 1273.2 2084.6 1272.2Z" fill="none" stroke="#54433d" stroke-width="4.2"/>
</svg></body></html>
